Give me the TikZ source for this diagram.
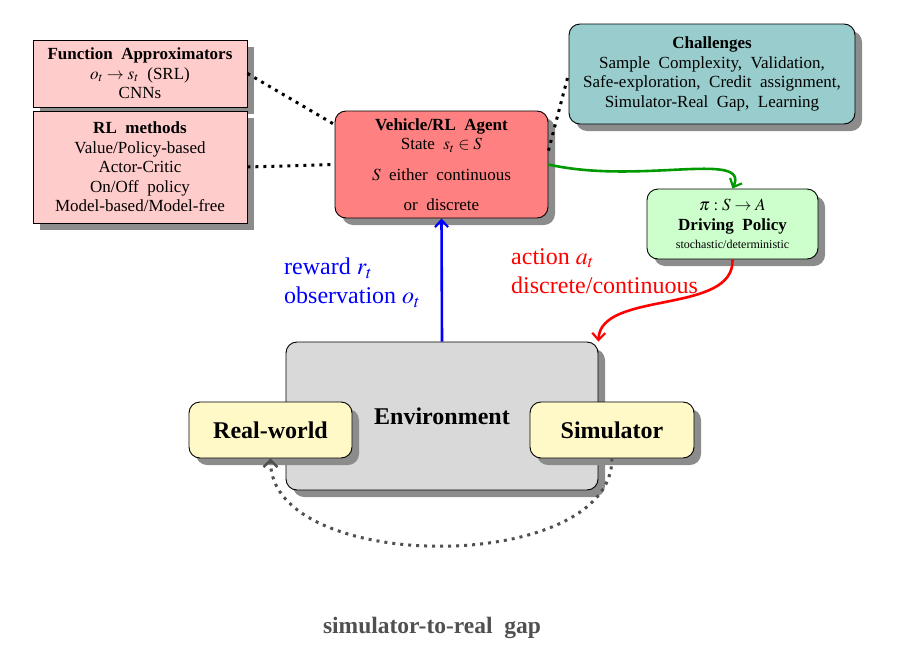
\documentclass[tikz,border=0pt]{standalone}
\usepackage{mathptmx}
\usepackage{fontspec}
\setmainfont{Liberation Serif}
\usetikzlibrary{shadows,arrows.meta}
\definecolor{fapink}{RGB}{255,204,204}
\definecolor{agentred}{RGB}{255,128,128}
\definecolor{chalteal}{RGB}{153,204,204}
\definecolor{polgreen}{RGB}{204,255,204}
\definecolor{envgray}{RGB}{217,217,217}
\definecolor{wyellow}{RGB}{255,249,200}
\definecolor{arrgreen}{RGB}{0,153,0}
\definecolor{capgray}{RGB}{80,80,80}
\newcommand\widespace{\spaceskip=0.5em plus 0.1em\relax}
\tikzset{
  shadowed/.style={drop shadow={shadow xshift=7pt,shadow yshift=-7pt,fill=black!45,opacity=1}},
  box/.style={draw=black,line width=0.9pt,align=center,inner sep=2pt,shadowed,
    font=\fontsize{17}{19.5}\selectfont,execute at begin node=\widespace},
  rbox/.style={box,rounded corners=11pt},
  wbox/.style={rbox,fill=wyellow,font=\fontsize{24}{28}\selectfont\bfseries},
  dotline/.style={line width=3pt,dash pattern=on 3pt off 5pt,black},
  flow/.style={line width=2.6pt,-{Straight Barb[length=7pt,width=13pt,line width=2.2pt]}},
  lbl/.style={align=left,anchor=north west,inner sep=0pt,font=\fontsize{24}{29}\selectfont}
}
\begin{document}
\begin{tikzpicture}[x=1pt,y=-1pt]
\useasboundingbox (0,0) rectangle (911,662);
% boxes
\node[box,fill=fapink,minimum width=214pt,minimum height=67pt] (fa) at (140,73.5)
  {\textbf{Function Approximators}\\ $o_t\rightarrow s_t$ (SRL)\\ CNNs};
\node[box,fill=fapink,minimum width=214pt,minimum height=112pt] (rl) at (140,167)
  {\textbf{RL methods}\\ Value/Policy-based\\ Actor-Critic\\ On/Off policy\\ Model-based/Model-free};
\node[rbox,fill=agentred,minimum width=213pt,minimum height=107pt] (veh) at (441.5,164.5)
  {\textbf{Vehicle/RL Agent}\\ State $s_t\in S$\\[11pt] $S$ either continuous\\[11pt] or discrete};
\node[rbox,fill=chalteal,minimum width=286pt,minimum height=100pt] (chal) at (712,74)
  {\textbf{Challenges}\\ Sample Complexity, Validation,\\ Safe-exploration, Credit assignment,\\ Simulator-Real Gap, Learning};
\node[rbox,fill=polgreen,minimum width=171pt,minimum height=70pt] (drv) at (732.5,224)
  {$\pi : S \rightarrow A$\\ \textbf{Driving Policy}\\[-1pt] {\fontsize{12}{14}\selectfont stochastic/deterministic}};
\node[rbox,fill=envgray,minimum width=312pt,minimum height=148pt,font=\fontsize{24}{28}\selectfont\bfseries] (env) at (442,416)
  {Environment};
\node[wbox,minimum width=163pt,minimum height=56pt] (real) at (270.5,430) {Real-world};
\node[wbox,minimum width=164pt,minimum height=56pt] (sim) at (612,430) {Simulator};
% labels
\node[lbl,text=blue] (rew) at (284,258) {reward $r_t$\\ observation $o_t$};
\node[lbl,text=red] (act) at (511,248) {action $a_t$\\ discrete/continuous};
\node[font=\fontsize{23.5}{27}\selectfont\bfseries,execute at begin node=\widespace,text=capgray] (cap) at (432,628) {simulator-to-real gap};
% dotted links
\draw[dotline] (fa.east) -- ([yshift=-14pt]veh.north west);
\draw[dotline] (rl.east) -- (veh.west);
\draw[dotline] ([yshift=-40pt]veh.north east) -- (chal.west);
% arrows
\draw[flow,arrgreen] (veh.east) .. controls (640,185) and (750,150) .. (drv.north);
\draw[flow,blue] (env.north) -- (veh.south);
\draw[flow,red] (drv.south) .. controls (735,315) and (600,290) .. (env.north east);
\draw[line width=3pt,dash pattern=on 3pt off 5pt,capgray,-{Straight Barb[length=7pt,width=14pt,line width=2.4pt]}]
  (sim.south) .. controls (612,575) and (270.5,575) .. (real.south);
\end{tikzpicture}
\end{document}
